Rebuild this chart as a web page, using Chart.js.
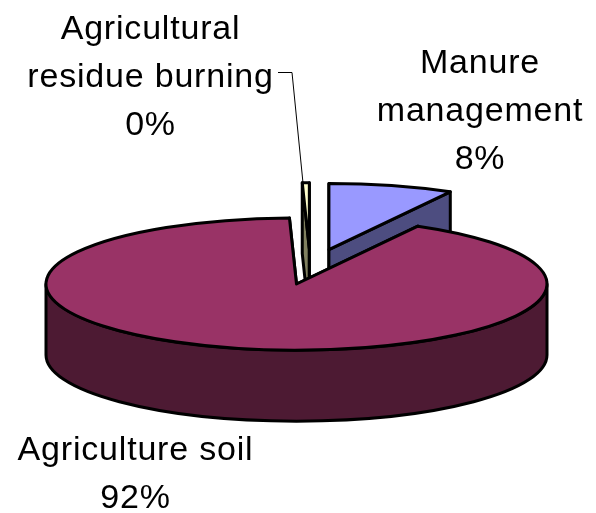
<!DOCTYPE html>
<html lang="en">
<head>
    <meta charset="UTF-8">
    <title>Agriculture emissions pie</title>
    <script src="https://cdn.jsdelivr.net/npm/chart.js"></script>
    <style>
        html, body { margin: 0; padding: 0; background: #ffffff; }
        canvas { display: block; }
    </style>
</head>
<body>
    <canvas id="pie" width="596" height="513"></canvas>
    <script>
        // Data (clockwise from the top of the pie)
        const categories = ['Agricultural residue burning', 'Manure management', 'Agriculture soil'];
        const values = [0.45, 8.05, 91.5];

        // Styles
        const topColors = ['#ffffcc', '#9999ff', '#993366'];
        const wallColors = ['#80805f', '#4d4d80', '#4d1a33'];
        const explode = [134, 134, 0];        // same unit as radius
        const explodeDir = [5.5, 14, 0];      // degrees from the top, the 3D view does not follow the slice middle
        const labelLines = [['Agricultural', 'residue burning'], ['Manure', 'management'], ['Agriculture soil']];
        const labelPos = [[150.5, 38.5], [480, 72.5], [135.5, 460]];
        const lineGap = 48;
        const tilt = 0.264, depth = 71;
        const center = { x: 296.5, y: 284 };

        const pie3d = {
            id: 'pie3d',
            beforeDatasetDraw(chart, args) {
                const ctx = chart.ctx;
                const arcs = chart.getDatasetMeta(args.index).data;
                ctx.save();
                ctx.lineWidth = 3;
                ctx.lineJoin = 'round';
                ctx.strokeStyle = '#000000';
                arcs.forEach((arc, i) => drawSlice(ctx, arc, i));
                ctx.restore();
                return false; // the slices are drawn above, tilted
            },
            afterDraw(chart) {
                const ctx = chart.ctx;
                const total = values.reduce((a, b) => a + b, 0);
                ctx.save();
                // leader line of the small slice
                ctx.strokeStyle = '#000000';
                ctx.lineWidth = 1;
                ctx.beginPath();
                ctx.moveTo(278, 72.5);
                ctx.lineTo(292, 72.5);
                ctx.lineTo(303, 183);
                ctx.stroke();
                ctx.fillStyle = '#000000';
                ctx.font = '34px "Liberation Sans"';
                ctx.letterSpacing = '0.8px';
                ctx.textAlign = 'center';
                ctx.textBaseline = 'alphabetic';
                categories.forEach((c, i) => {
                    const lines = labelLines[i].concat(Math.round(values[i] / total * 100) + '%');
                    lines.forEach((t, k) => ctx.fillText(t, labelPos[i][0], labelPos[i][1] + k * lineGap));
                });
                ctx.restore();
            }
        };

        function drawSlice(ctx, arc, i) {
            const { startAngle, endAngle, outerRadius: rx } = arc.getProps(['startAngle', 'endAngle', 'outerRadius'], true);
            const ry = rx * tilt;
            const dir = explodeDir[i] * Math.PI / 180;
            const x = center.x + Math.sin(dir) * explode[i];
            const y = center.y - Math.cos(dir) * explode[i] * tilt;
            const rim = a => [x + rx * Math.cos(a), y + ry * Math.sin(a)];

            ctx.fillStyle = wallColors[i];
            // cut faces
            [startAngle, endAngle].forEach(a => {
                const p = rim(a);
                ctx.beginPath();
                ctx.moveTo(x, y);
                ctx.lineTo(p[0], p[1]);
                ctx.lineTo(p[0], p[1] + depth);
                ctx.lineTo(x, y + depth);
                ctx.closePath();
                ctx.fill();
                ctx.stroke();
            });
            // outer wall, only the half facing the viewer
            const a0 = Math.max(startAngle, 0), a1 = Math.min(endAngle, Math.PI);
            if (a1 > a0) {
                ctx.beginPath();
                ctx.ellipse(x, y, rx, ry, 0, a0, a1);
                ctx.ellipse(x, y + depth, rx, ry, 0, a1, a0, true);
                ctx.closePath();
                ctx.fill();
                ctx.stroke();
            }
            // top
            ctx.fillStyle = topColors[i];
            ctx.beginPath();
            ctx.moveTo(x, y);
            ctx.ellipse(x, y, rx, ry, 0, startAngle, endAngle);
            ctx.closePath();
            ctx.fill();
            ctx.stroke();
        }

        new Chart(document.getElementById('pie'), {
            type: 'pie',
            data: {
                labels: categories,
                datasets: [{ data: values, backgroundColor: topColors, offset: explode }]
            },
            options: {
                responsive: false,
                animation: false,
                rotation: -1.62,
                radius: 250.5,
                events: [],
                plugins: { legend: { display: false }, tooltip: { enabled: false } }
            },
            plugins: [pie3d]
        });
    </script>
</body>
</html>
